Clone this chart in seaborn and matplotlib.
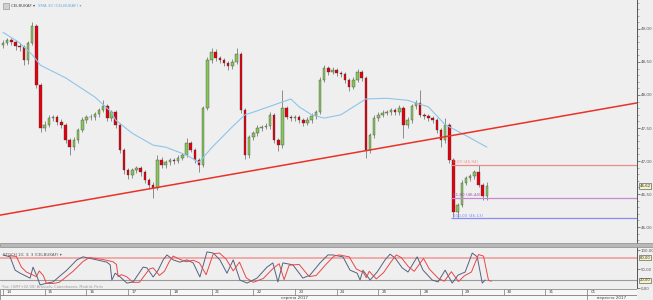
import numpy as np
import matplotlib
matplotlib.use("Agg")
import matplotlib.pyplot as plt
from matplotlib.patches import Rectangle
import matplotlib.transforms as mtransforms
import seaborn as sns

sns.set_theme(style="white")
plt.rcParams['font.family'] = ['DejaVu Sans']

# ---------------- data ----------------
symbol = "CELBUKAF"
opens = [48.76, 48.79, 48.83, 48.80, 48.74, 48.73, 48.53, 48.79, 49.05, 48.15,
         47.50, 47.55, 47.65, 47.67, 47.59, 47.55, 47.32, 47.21, 47.32, 47.47,
         47.62, 47.67, 47.66, 47.71, 47.77, 47.83, 47.65, 47.74, 47.55, 47.17,
         46.86, 46.79, 46.86, 46.89, 46.83, 46.71, 46.64, 46.59, 47.02, 46.94,
         46.98, 47.02, 47.00, 47.05, 47.09, 47.27, 47.17, 47.02, 46.94, 47.80,
         48.53, 48.65, 48.56, 48.53, 48.48, 48.44, 48.50, 48.62, 47.77, 47.09,
         47.36, 47.42, 47.50, 47.52, 47.53, 47.70, 47.32, 47.24, 47.80, 47.67,
         47.65, 47.67, 47.62, 47.58, 47.62, 47.68, 47.74, 48.23, 48.41, 48.35,
         48.38, 48.33, 48.32, 48.23, 48.12, 48.23, 48.35, 48.26, 47.17, 47.39,
         47.65, 47.70, 47.73, 47.74, 47.77, 47.74, 47.80, 47.55, 47.62, 47.83,
         47.88, 47.70, 47.68, 47.65, 47.62, 47.47, 47.32, 47.55, 47.02, 46.23,
         46.33, 46.67, 46.74, 46.77, 46.83, 46.64, 46.47]
closes = [48.79, 48.83, 48.80, 48.74, 48.73, 48.53, 48.79, 49.05, 48.15, 47.50,
          47.55, 47.65, 47.67, 47.59, 47.55, 47.32, 47.21, 47.32, 47.47, 47.62,
          47.67, 47.66, 47.71, 47.77, 47.83, 47.65, 47.74, 47.55, 47.17, 46.86,
          46.79, 46.86, 46.89, 46.83, 46.71, 46.64, 46.59, 47.02, 46.94, 46.98,
          47.02, 47.00, 47.05, 47.09, 47.27, 47.17, 47.02, 46.94, 47.80, 48.53,
          48.65, 48.56, 48.53, 48.48, 48.44, 48.50, 48.62, 47.77, 47.09, 47.36,
          47.42, 47.50, 47.52, 47.53, 47.70, 47.32, 47.24, 47.80, 47.67, 47.65,
          47.67, 47.62, 47.58, 47.62, 47.68, 47.74, 48.23, 48.41, 48.35, 48.38,
          48.33, 48.32, 48.23, 48.12, 48.23, 48.35, 48.26, 47.17, 47.39, 47.65,
          47.70, 47.73, 47.74, 47.77, 47.74, 47.80, 47.55, 47.62, 47.83, 47.88,
          47.70, 47.68, 47.65, 47.62, 47.47, 47.32, 47.55, 47.02, 46.23, 46.33,
          46.67, 46.74, 46.77, 46.83, 46.64, 46.47, 46.62]
highs = [48.83, 48.87, 48.86, 48.83, 48.79, 48.76, 48.82, 49.11, 49.08, 48.18,
         47.60, 47.69, 47.70, 47.70, 47.63, 47.58, 47.35, 47.36, 47.50, 47.66,
         47.70, 47.71, 47.74, 47.80, 47.92, 47.86, 47.77, 47.77, 47.58, 47.20,
         46.90, 46.90, 46.93, 46.92, 46.86, 46.75, 46.68, 47.09, 47.06, 47.02,
         47.05, 47.05, 47.09, 47.12, 47.35, 47.30, 47.20, 47.05, 47.83, 48.58,
         48.71, 48.69, 48.59, 48.56, 48.51, 48.54, 48.71, 48.65, 47.80, 47.40,
         47.46, 47.54, 47.55, 47.57, 47.74, 47.73, 47.35, 48.08, 47.83, 47.70,
         47.70, 47.70, 47.65, 47.66, 47.72, 47.78, 48.27, 48.45, 48.44, 48.42,
         48.41, 48.36, 48.35, 48.26, 48.27, 48.39, 48.38, 48.29, 47.43, 47.69,
         47.74, 47.77, 47.78, 47.81, 47.80, 47.85, 47.83, 47.66, 47.87, 47.92,
         48.08, 47.73, 47.71, 47.68, 47.65, 47.50, 47.65, 47.58, 47.05, 46.37,
         46.71, 46.78, 46.81, 46.87, 46.94, 46.67, 46.68]
lows = [48.71, 48.76, 48.76, 48.68, 48.66, 48.45, 48.47, 48.76, 48.10, 47.44,
        47.45, 47.52, 47.61, 47.55, 47.50, 47.27, 47.09, 47.17, 47.28, 47.44,
        47.58, 47.62, 47.62, 47.67, 47.74, 47.61, 47.60, 47.50, 47.12, 46.80,
        46.72, 46.74, 46.82, 46.78, 46.66, 46.58, 46.44, 46.56, 46.90, 46.90,
        46.94, 46.96, 46.97, 47.01, 47.06, 47.13, 46.97, 46.83, 46.91, 47.77,
        48.49, 48.52, 48.48, 48.44, 48.38, 48.40, 48.47, 47.73, 47.03, 47.05,
        47.32, 47.38, 47.46, 47.48, 47.49, 47.28, 47.15, 47.20, 47.63, 47.61,
        47.60, 47.58, 47.53, 47.54, 47.58, 47.64, 47.71, 48.19, 48.31, 48.32,
        48.29, 48.27, 48.18, 48.06, 48.09, 48.20, 48.21, 47.05, 47.12, 47.35,
        47.61, 47.66, 47.69, 47.70, 47.70, 47.70, 47.35, 47.50, 47.58, 47.79,
        47.66, 47.64, 47.61, 47.58, 47.42, 47.21, 47.28, 46.97, 46.15, 46.13,
        46.30, 46.63, 46.70, 46.73, 46.60, 46.41, 46.41]

# SMA 30 (read at bar positions)
sma_bar = [0, 4, 7, 9, 15, 22, 26, 27, 31, 36, 39, 44, 47, 50, 55, 58, 60, 65, 69, 71,
           74, 77, 81, 87, 92, 97, 102, 106, 110, 116]
sma_val = [48.95, 48.79, 48.61, 48.45, 48.26, 47.97, 47.74, 47.62, 47.42, 47.24,
           47.21, 47.09, 46.98, 47.20, 47.52, 47.70, 47.74, 47.85, 47.94, 47.82,
           47.70, 47.65, 47.70, 47.94, 47.95, 47.92, 47.82, 47.55, 47.42, 47.21]

# trend line anchors (bar, price)
trend_bar = [-0.72, 152.0]
trend_val = [46.18, 47.88]

# Fibonacci levels
fib_start = 107.5
fib_pct = ["0,00", "61,80", "100,00"]
fib_val = [46.94, 46.44, 46.13]
fib_col = ["#f08a8a", "#c58ad0", "#8a8cf5"]

# Stochastic 10;3;3
k_pos = [0, 1.7, 2.9, 4.1, 6.5, 7.2, 8.2, 8.9, 10.6, 12.0, 15.3, 17.7, 19.2, 22.5, 24.9,
         25.7, 26.1, 26.9, 28.1, 29.7, 31.2, 33.6, 34.5, 36.0, 37.2, 38.4, 39.3, 40.8,
         42.4, 44.1, 45.6, 47.2, 48.9, 50.4, 52.0, 53.7, 55.2, 56.8, 58.5, 60.9, 63.3,
         64.7, 65.9, 67.1, 69.5, 71.9, 73.6, 76.0, 77.9, 79.1, 81.5, 83.2, 84.9, 85.6,
         86.3, 88.0, 89.7, 91.6, 92.8, 94.0, 95.7, 97.1, 99.3, 100.7, 102.9, 104.3,
         106.0, 107.7, 109.1, 110.8, 112.5, 113.7, 114.9, 115.6]
k_val = [87, 82, 47, 39, 26, 55, 29, 8, 13, 16, 47, 74, 82, 74, 68, 61, 21, 39, 29, 13,
         16, 55, 53, 29, 47, 74, 87, 74, 68, 74, 66, 29, 95, 92, 74, 39, 74, 21, 13, 26,
         55, 66, 16, 66, 61, 26, 34, 66, 87, 87, 82, 47, 39, 21, 47, 21, 42, 74, 89, 79,
         53, 42, 82, 47, 21, 16, 47, 13, 34, 42, 92, 82, 13, 21]
d_pos = [1.5, 3.2, 4.4, 5.6, 8.0, 8.7, 9.7, 10.4, 12.1, 13.5, 16.8, 19.2, 20.7, 24.0,
         26.4, 27.2, 27.6, 28.4, 29.6, 31.2, 32.7, 35.1, 36.0, 37.5, 38.7, 39.9, 40.8,
         42.3, 43.9, 45.6, 47.1, 48.7, 50.4, 51.9, 53.5, 55.2, 56.7, 58.3, 60.0, 62.4,
         64.8, 66.2, 67.4, 68.6, 71.0, 73.4, 75.1, 77.5, 79.4, 80.6, 83.0, 84.7, 86.4,
         87.1, 87.8, 89.5, 91.2, 93.1, 94.3, 95.5, 97.2, 98.6, 100.8, 102.2, 104.4,
         105.8, 107.5, 109.2, 110.6, 112.3, 114.0, 115.2, 116.4, 117.1]
d_val = [85, 83, 55, 42, 30, 45, 32, 12, 12, 15, 44, 70, 80, 75, 69, 62, 30, 35, 30, 15,
         15, 50, 53, 33, 44, 70, 84, 76, 69, 73, 66, 35, 90, 92, 76, 45, 68, 27, 15, 25,
         52, 64, 22, 60, 62, 30, 33, 63, 84, 87, 82, 50, 41, 27, 44, 24, 40, 70, 87, 80,
         56, 44, 78, 50, 25, 18, 43, 17, 32, 42, 88, 84, 20, 18]

day_labels = ["14", "15", "16", "17", "18", "21", "22", "23", "24", "25", "28", "29", "30", "31", "01"]
bars_per_day = 10
month_labels = ["серпня 2017", "вересня 2017"]
month_center = [70, 146]
price_ticks = [46.0, 46.5, 47.0, 47.5, 48.0, 48.5, 49.0]
stoch_ticks = [0, 50, 100]
stoch_levels = [80, 20]

# ---------------- layout ----------------
W, H = 653, 300
def rect(x0, y0, x1, y1):
    return [x0 / W, 1 - y1 / H, (x1 - x0) / W, (y1 - y0) / H]

BG = "#efefef"
fig = plt.figure(figsize=(W / 100, H / 100), dpi=100, facecolor=BG)
ax = fig.add_axes(rect(0, 0, 637, 243))
axs = fig.add_axes(rect(0, 247, 637, 288))
axt = fig.add_axes(rect(0, 288, 637, 300))
XLIM = (-0.72, 152.0)
for a in (ax, axs, axt):
    a.set_facecolor(BG)
    a.set_xlim(*XLIM)
    for s in a.spines.values():
        s.set_visible(False)

# separator band between panels
fig.add_artist(Rectangle((0, 1 - 247 / H), 1, 4 / H, transform=fig.transFigure,
                         facecolor="#b8b8b8", edgecolor="#8a8a8a", lw=0.5))

# ---------------- main panel ----------------
x = np.arange(len(closes))
o = np.array(opens); c = np.array(closes)
ax.vlines(x, lows, highs, color="#8c8c8c", lw=0.7, zorder=2)
up = c >= o
colors = np.where(up, "#86c65a", "#e3000f")
bottoms = np.minimum(o, c)
heights = np.maximum(np.abs(c - o), 0.012)
ax.bar(x, heights, bottom=bottoms, width=0.6, color=colors, edgecolor="#3a3a3a",
       linewidth=0.25, zorder=3)

sns.lineplot(x=sma_bar, y=sma_val, ax=ax, color="#8ec5e8", lw=0.8, zorder=4)
sns.lineplot(x=trend_bar, y=trend_val, ax=ax, color="#e8322a", lw=1.1, zorder=5)

for p, v, col in zip(fib_pct, fib_val, fib_col):
    ax.hlines(v, fib_start, XLIM[1], color=col, lw=0.9, zorder=4)
    ax.text(fib_start + 0.3, v + 0.012, f"{p} ({v:.2f})".replace(".", ","),
            fontsize=3.0, color=col if p != "61,80" else "#9a50a8", va="bottom", ha="left")

ax.set_ylim(45.758, 49.439)
ax.yaxis.tick_right()
ax.set_yticks(price_ticks)
ax.set_yticklabels([f"{v:.2f}".replace(".", ",") for v in price_ticks], fontsize=3.0, color="#555555")
ax.set_yticks(np.arange(45.8, 49.45, 0.1), minor=True)
ax.tick_params(axis="y", which="major", length=2.5, width=0.5, color="#555555", pad=0.6, direction="out")
ax.tick_params(axis="y", which="minor", length=1.5, width=0.4, color="#777777", right=True, left=False)
ax.tick_params(axis="x", bottom=False, labelbottom=False)
ax.spines["right"].set_visible(True)
ax.spines["right"].set_color("#555555")
ax.spines["right"].set_linewidth(0.7)
ax.set_xlabel(""); ax.set_ylabel("")

# last price box
ax.text(1.004, closes[-1], f"{closes[-1]:.2f}".replace(".", ","),
        transform=mtransforms.blended_transform_factory(ax.transAxes, ax.transData),
        fontsize=2.9, color="#333333", va="center", ha="left",
        bbox=dict(boxstyle="square,pad=0.15", fc="#f6f2c8", ec="#444444", lw=0.4))

# header
fig.add_artist(Rectangle((3 / W, 1 - 9 / H), 6 / W, 6 / H, transform=fig.transFigure,
                         facecolor="#d0d0d0", edgecolor="#888888", lw=0.4))
fig.text(11 / W, 1 - 6 / H, f"{symbol} ▾", fontsize=2.9, color="#444444", va="center", ha="left")
fig.text(38 / W, 1 - 6 / H, f"SMA 30 ({symbol}) ▾", fontsize=2.9, color="#6aaedc", va="center", ha="left")

# ---------------- stochastic panel ----------------
axs.set_ylim(0, 107.9)
axs.axhline(stoch_levels[0], color="#f2a4a4", lw=1.3, zorder=1)
axs.axhline(stoch_levels[1], color="#9a9a9a", lw=0.8, zorder=1)
sns.lineplot(x=d_pos, y=d_val, ax=axs, color="#e8474a", lw=0.7, zorder=3)
sns.lineplot(x=k_pos, y=k_val, ax=axs, color="#55627e", lw=0.7, zorder=2)
axs.yaxis.tick_right()
axs.set_yticks(stoch_ticks)
axs.set_yticklabels([f"{v:.2f}".replace(".", ",") for v in stoch_ticks], fontsize=2.8, color="#555555")
axs.tick_params(axis="y", length=2, width=0.5, color="#555555", pad=0.6)
axs.tick_params(axis="x", bottom=False, labelbottom=False)
axs.spines["right"].set_visible(True)
axs.spines["right"].set_color("#555555")
axs.spines["right"].set_linewidth(0.7)
axs.set_xlabel(""); axs.set_ylabel("")
tr = mtransforms.blended_transform_factory(axs.transAxes, axs.transData)
for lv in stoch_levels:
    axs.text(1.004, lv, f"{lv:.2f}".replace(".", ","), transform=tr, fontsize=2.7, color="#333333",
             va="center", ha="left", bbox=dict(boxstyle="square,pad=0.15", fc="#f6f2c8", ec="#444444", lw=0.4))
axs.text(0.005, 88, f"STOCH 10; 3; 3 ({symbol}) ▾", transform=tr, fontsize=2.9, color="#555555", va="center")
axs.text(0.003, 3, "Час: (GMT+02:00) Brussels, Copenhagen, Madrid, Paris", transform=tr,
         fontsize=2.6, color="#9a9a9a", va="center")

# ---------------- time strip ----------------
axt.set_ylim(0, 12)
axt.add_patch(Rectangle((XLIM[0], 5), XLIM[1] - XLIM[0], 6.5, facecolor="#f7f7f7", edgecolor="#777777", lw=0.5))
axt.add_patch(Rectangle((XLIM[0], 0), XLIM[1] - XLIM[0], 5, facecolor="#f7f7f7", edgecolor="#777777", lw=0.5))
for k, lab in enumerate(day_labels):
    pos = k * bars_per_day
    axt.vlines(pos, 5, 11.5, color="#777777", lw=0.5)
    axt.text(pos + 0.8, 8.2, lab, fontsize=3.0, color="#444444", va="center", ha="left")
axt.vlines(14 * bars_per_day, 0, 5, color="#777777", lw=0.5)
for mc, ml in zip(month_center, month_labels):
    axt.text(mc, 2.3, ml, fontsize=3.0, color="#444444", va="center", ha="center")
axt.set_xticks([]); axt.set_yticks([])

fig.savefig("out.png", dpi=100, facecolor=BG)
